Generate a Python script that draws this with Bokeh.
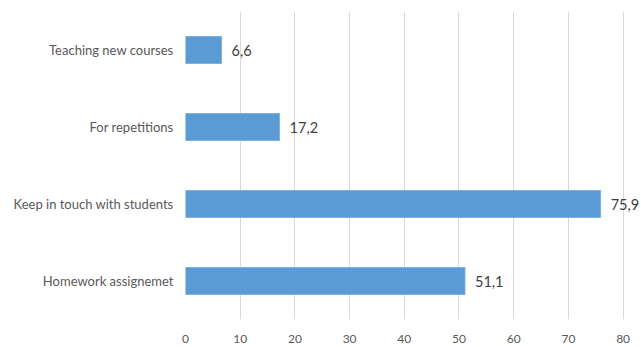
from bokeh.plotting import figure
from bokeh.models import Range1d, FactorRange, FixedTicker, ColumnDataSource
from bokeh.core.properties import value
from bokeh.embed import file_html
from bokeh.resources import INLINE

categories = ["Homework assignemet", "Keep in touch with students", "For repetitions", "Teaching new courses"]
values = [51.1, 75.9, 17.2, 6.6]
x_ticks = [0, 10, 20, 30, 40, 50, 60, 70, 80]

labels = [f"{v:.1f}".replace(".", ",") for v in values]
src = ColumnDataSource(dict(cat=categories, val=values, lab=labels))

p = figure(
    y_range=FactorRange(*categories),
    x_range=Range1d(0, 83),
    frame_width=454, frame_height=308,
    min_border_left=185, min_border_right=2, min_border_top=11, min_border_bottom=28,
    output_backend="svg", toolbar_location=None,
)
p.outline_line_color = None
p.background_fill_color = "white"
p.border_fill_color = "white"

p.hbar(y="cat", right="val", left=0, height=0.35, source=src,
       fill_color="#5B9BD5", line_color="#7FB0DE", line_width=1)

p.text(x="val", y="cat", text="lab", source=src, x_offset=10,
       text_baseline="middle", text_align="left",
       text_font=value("Lato"), text_font_size="14.5px", text_color="#404040")

p.xaxis.ticker = FixedTicker(ticks=x_ticks)
p.xaxis.axis_line_color = None
p.xaxis.major_tick_line_color = None
p.xaxis.minor_tick_line_color = None
p.xaxis.major_label_text_font = "Lato"
p.xaxis.major_label_text_font_size = "12px"
p.xaxis.major_label_text_color = "#595959"
p.xaxis.major_label_standoff = 9

p.yaxis.axis_line_color = None
p.yaxis.major_tick_line_color = None
p.yaxis.minor_tick_line_color = None
p.yaxis.major_label_text_font = "Lato"
p.yaxis.major_label_text_font_size = "13px"
p.yaxis.major_label_text_color = "#595959"
p.yaxis.major_label_standoff = 6

p.xgrid.ticker = FixedTicker(ticks=x_ticks)
p.xgrid.grid_line_color = "#D9D9D9"
p.ygrid.grid_line_color = None

open("out.html", "w").write(file_html(p, INLINE))
